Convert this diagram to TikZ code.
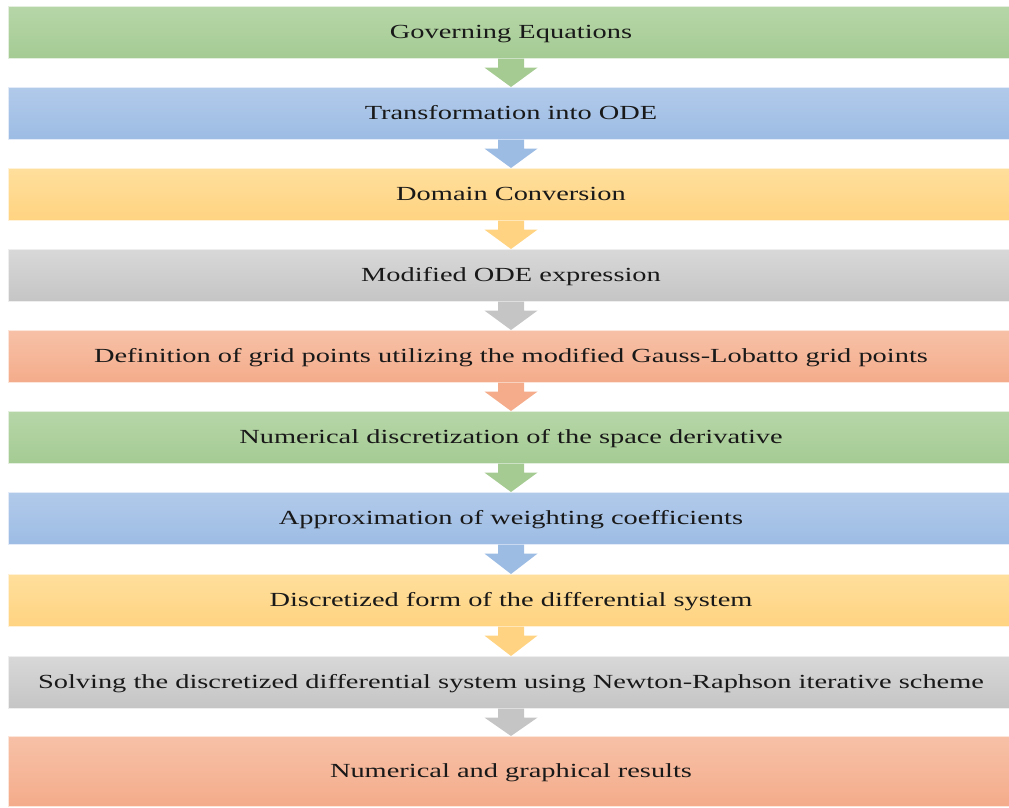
\documentclass[tikz,border=0pt]{standalone}
\usepackage{fontspec}
\setmainfont{Liberation Serif}
\usepackage{graphicx}
\usetikzlibrary{calc}
\definecolor{grT}{HTML}{B6D6A8}\definecolor{grB}{HTML}{A5CB93}
\definecolor{blT}{HTML}{B1CAEA}\definecolor{blB}{HTML}{9DBCE4}
\definecolor{ylT}{HTML}{FFDF9C}\definecolor{ylB}{HTML}{FFD381}
\definecolor{gyT}{HTML}{D8D8D8}\definecolor{gyB}{HTML}{C5C5C5}
\definecolor{saT}{HTML}{F7C1A7}\definecolor{saB}{HTML}{F4AC8B}
\newcommand{\lbl}[1]{\fontsize{20}{24}\selectfont\scalebox{1.42}[1]{#1}}
\begin{document}
\begin{tikzpicture}[x=1pt,y=-1pt,
  box/.style={anchor=north, minimum width=1006pt, minimum height=52pt, inner sep=0pt,
    text height=13pt, text depth=0pt,
    text=black!90, draw=white!70!#1B, line width=0.6pt, top color=#1T, bottom color=#1B},
  flow/.style={fill=#1B}]
\useasboundingbox (0,0) rectangle (1009,807);
\node[box=gr] (n1)  at (511,6)   {\lbl{Governing Equations}};
\node[box=bl] (n2)  at (511,87)  {\lbl{Transformation into ODE}};
\node[box=yl] (n3)  at (511,168) {\lbl{Domain Conversion}};
\node[box=gy] (n4)  at (511,249) {\lbl{Modified ODE expression}};
\node[box=sa] (n5)  at (511,330) {\lbl{Definition of grid points utilizing the modified Gauss-Lobatto grid points}};
\node[box=gr] (n6)  at (511,411) {\lbl{Numerical discretization of the space derivative}};
\node[box=bl] (n7)  at (511,492) {\lbl{Approximation of weighting coefficients}};
\node[box=yl] (n8)  at (511,574) {\lbl{Discretized form of the differential system}};
\node[box=gy] (n9)  at (511,656) {\lbl{Solving the discretized differential system using Newton-Raphson iterative scheme}};
\node[box=sa, minimum height=70pt] (n10) at (511,736) {\lbl{Numerical and graphical results}};
\foreach \a/\b/\c in {n1/n2/gr,n2/n3/bl,n3/n4/yl,n4/n5/gy,n5/n6/sa,n6/n7/gr,n7/n8/bl,n8/n9/yl,n9/n10/gy}{
  \fill[flow=\c] ($(\a.south)+(-13,0)$) -- ($(\a.south)+(13,0)$) -- ($(\a.south)+(13,9)$)
    -- ($(\a.south)+(26.5,9)$) -- (\b.north) -- ($(\a.south)+(-26.5,9)$)
    -- ($(\a.south)+(-13,9)$) -- cycle;
}
\end{tikzpicture}
\end{document}
